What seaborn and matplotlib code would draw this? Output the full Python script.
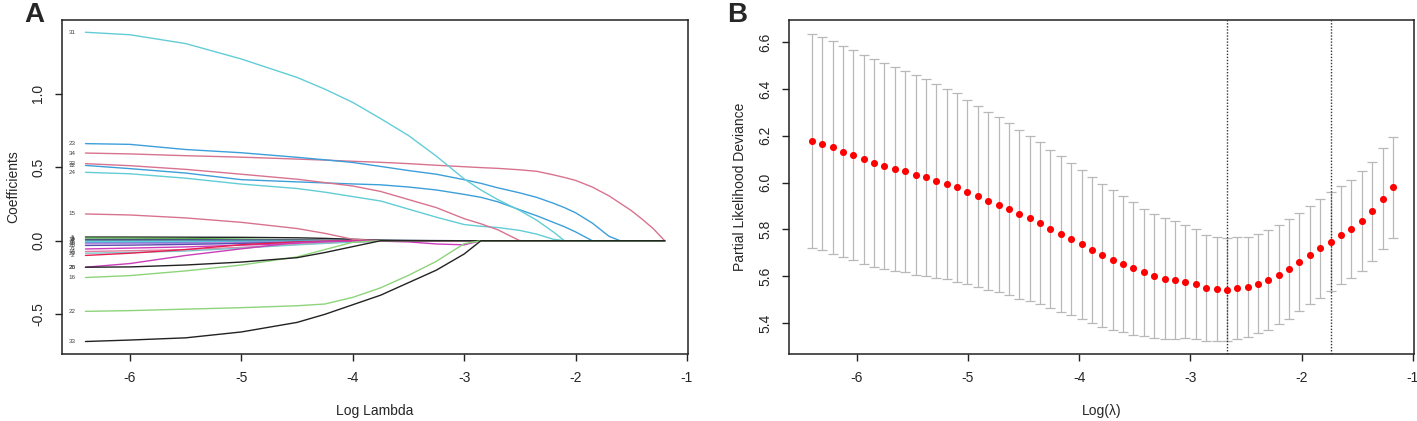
import pandas as pd
import matplotlib
matplotlib.use("Agg")
import matplotlib.pyplot as plt
import seaborn as sns


# ---- Panel A: lasso coefficient paths ----
path_log_lambda = [-6.4, -6.0, -5.5, -5.0, -4.5, -4.25, -4.0, -3.75, -3.5, -3.25, -3.0, -2.85,
                   -2.7, -2.5, -2.35, -2.2, -2.1, -2.0, -1.85, -1.7, -1.6, -1.5, -1.4, -1.3, -1.2]

coef_31 = [1.417, 1.40, 1.34, 1.235, 1.11, 1.03, 0.94, 0.83, 0.715, 0.575, 0.42, 0.345,
           0.28, 0.205, 0.14, 0.06, 0, 0, 0, 0, 0, 0, 0, 0, 0]
coef_23 = [0.66, 0.655, 0.62, 0.598, 0.567, 0.55, 0.532, 0.505, 0.477, 0.452, 0.415, 0.39,
           0.36, 0.325, 0.295, 0.255, 0.225, 0.19, 0.12, 0.03, 0, 0, 0, 0, 0]
coef_34 = [0.596, 0.59, 0.578, 0.568, 0.555, 0.548, 0.54, 0.533, 0.524, 0.513, 0.503, 0.497,
           0.492, 0.482, 0.472, 0.448, 0.43, 0.41, 0.365, 0.305, 0.255, 0.205, 0.145, 0.08, 0]
coef_32 = [0.524, 0.51, 0.485, 0.452, 0.418, 0.395, 0.372, 0.335, 0.28, 0.225, 0.15, 0.115,
           0.075, 0, 0, 0, 0, 0, 0, 0, 0, 0, 0, 0, 0]
coef_12 = [0.512, 0.49, 0.46, 0.415, 0.40, 0.393, 0.386, 0.38, 0.365, 0.345, 0.315, 0.295,
           0.265, 0.21, 0.17, 0.125, 0.095, 0.06, 0, 0, 0, 0, 0, 0, 0]
coef_24 = [0.465, 0.455, 0.425, 0.385, 0.355, 0.33, 0.30, 0.27, 0.215, 0.16, 0.11, 0.098,
           0.09, 0.07, 0.045, 0.01, 0, 0, 0, 0, 0, 0, 0, 0, 0]
coef_15 = [0.182, 0.175, 0.155, 0.125, 0.083, 0.05, 0.01, 0, 0, 0, 0, 0,
           0, 0, 0, 0, 0, 0, 0, 0, 0, 0, 0, 0, 0]
coef_16 = [-0.25, -0.237, -0.205, -0.165, -0.11, -0.06, -0.01, 0, 0, 0, 0, 0,
           0, 0, 0, 0, 0, 0, 0, 0, 0, 0, 0, 0, 0]
coef_26 = [-0.18, -0.178, -0.165, -0.145, -0.115, -0.08, -0.04, 0, 0, 0, 0, 0,
           0, 0, 0, 0, 0, 0, 0, 0, 0, 0, 0, 0, 0]
coef_20 = [-0.18, -0.155, -0.10, -0.055, -0.012, -0.006, -0.002, 0, 0, 0, 0, 0,
           0, 0, 0, 0, 0, 0, 0, 0, 0, 0, 0, 0, 0]
coef_22 = [-0.48, -0.475, -0.465, -0.455, -0.442, -0.43, -0.385, -0.32, -0.235, -0.14, -0.02, 0,
           0, 0, 0, 0, 0, 0, 0, 0, 0, 0, 0, 0, 0]
coef_33 = [-0.685, -0.675, -0.66, -0.62, -0.555, -0.50, -0.435, -0.37, -0.285, -0.2, -0.09, 0,
           0, 0, 0, 0, 0, 0, 0, 0, 0, 0, 0, 0, 0]
# small coefficients bunched around zero
coef_1 = [0.025, 0.025, 0.024, 0.023, 0.02, 0.016, 0.01, 0.004, 0.001, 0, 0, 0,
          0, 0, 0, 0, 0, 0, 0, 0, 0, 0, 0, 0, 0]
coef_3 = [0.018, 0.017, 0.015, 0.011, 0.005, 0.002, 0, 0, 0, 0, 0, 0,
          0, 0, 0, 0, 0, 0, 0, 0, 0, 0, 0, 0, 0]
coef_8 = [0.01, 0.01, 0.009, 0.007, 0.004, 0.002, 0, 0, 0, 0, 0, 0,
          0, 0, 0, 0, 0, 0, 0, 0, 0, 0, 0, 0, 0]
coef_19 = [0.005, 0.005, 0.005, 0.004, 0.004, 0.003, 0.003, 0.002, 0.002, 0.001, 0, 0,
           0, 0, 0, 0, 0, 0, 0, 0, 0, 0, 0, 0, 0]
coef_5 = [-0.005, -0.005, -0.004, -0.003, -0.002, -0.001, 0, 0, 0, 0, 0, 0,
          0, 0, 0, 0, 0, 0, 0, 0, 0, 0, 0, 0, 0]
coef_4 = [-0.015, -0.015, -0.013, -0.011, -0.008, -0.006, -0.004, -0.002, -0.001, 0, 0, 0,
          0, 0, 0, 0, 0, 0, 0, 0, 0, 0, 0, 0, 0]
coef_10 = [-0.02, -0.019, -0.016, -0.012, -0.007, -0.004, -0.001, 0, 0, 0, 0, 0,
           0, 0, 0, 0, 0, 0, 0, 0, 0, 0, 0, 0, 0]
coef_28 = [-0.032, -0.03, -0.025, -0.018, -0.01, -0.006, -0.003, 0, 0, 0, 0, 0,
           0, 0, 0, 0, 0, 0, 0, 0, 0, 0, 0, 0, 0]
coef_6 = [-0.056, -0.05, -0.042, -0.03, -0.018, -0.012, -0.008, -0.003, -0.008, -0.022, -0.028, 0,
          0, 0, 0, 0, 0, 0, 0, 0, 0, 0, 0, 0, 0]
coef_14 = [-0.073, -0.068, -0.06, -0.045, -0.025, -0.015, -0.007, 0, 0, 0, 0, 0,
           0, 0, 0, 0, 0, 0, 0, 0, 0, 0, 0, 0, 0]
coef_29 = [-0.085, -0.08, -0.07, -0.05, -0.028, -0.018, -0.009, -0.003, 0, 0, 0, 0,
           0, 0, 0, 0, 0, 0, 0, 0, 0, 0, 0, 0, 0]
coef_2 = [-0.10, -0.085, -0.06, -0.027, -0.008, -0.003, 0, 0, 0, 0, 0, 0,
          0, 0, 0, 0, 0, 0, 0, 0, 0, 0, 0, 0, 0]

# ---- Panel B: cross-validation curve ----
cv_log_lambda = [-6.405, -6.312, -6.218, -6.125, -6.032, -5.938, -5.845, -5.752, -5.659, -5.565,
                 -5.472, -5.379, -5.285, -5.192, -5.099, -5.005, -4.912, -4.819, -4.726, -4.632,
                 -4.539, -4.446, -4.352, -4.259, -4.166, -4.072, -3.979, -3.886, -3.792, -3.699,
                 -3.606, -3.513, -3.419, -3.326, -3.233, -3.139, -3.046, -2.953, -2.859, -2.766,
                 -2.673, -2.579, -2.486, -2.393, -2.300, -2.206, -2.113, -2.020, -1.926, -1.833,
                 -1.740, -1.646, -1.553, -1.460, -1.367, -1.273, -1.180]
cv_mean = [6.179, 6.165, 6.150, 6.132, 6.118, 6.099, 6.084, 6.069, 6.058, 6.048,
           6.033, 6.023, 6.007, 5.993, 5.979, 5.960, 5.942, 5.923, 5.906, 5.886,
           5.865, 5.847, 5.826, 5.803, 5.781, 5.760, 5.737, 5.712, 5.690, 5.670,
           5.651, 5.634, 5.617, 5.601, 5.590, 5.583, 5.576, 5.566, 5.550, 5.545,
           5.543, 5.548, 5.554, 5.569, 5.583, 5.606, 5.631, 5.660, 5.691, 5.719,
           5.748, 5.776, 5.803, 5.835, 5.877, 5.931, 5.980]
cv_sd = [0.457, 0.455, 0.454, 0.451, 0.448, 0.447, 0.443, 0.440, 0.435, 0.430,
         0.426, 0.420, 0.413, 0.405, 0.402, 0.391, 0.386, 0.380, 0.374, 0.367,
         0.360, 0.353, 0.346, 0.338, 0.332, 0.324, 0.318, 0.312, 0.306, 0.300,
         0.291, 0.283, 0.272, 0.264, 0.260, 0.251, 0.241, 0.235, 0.226, 0.221,
         0.220, 0.218, 0.214, 0.213, 0.213, 0.211, 0.212, 0.209, 0.209, 0.210,
         0.212, 0.211, 0.210, 0.214, 0.212, 0.215, 0.216]
log_lambda_min = -2.673
log_lambda_1se = -1.740


# colours of the paths (drawing order: small ones first, 33 last)
pink, cyan, blue, green, black = "#D8738F", "#62CDD6", "#3C9FD9", "#8ED47A", "#222222"
path_colors = {
    "1": black, "3": "#3FB53A", "8": "#A8A8A8", "19": "#1F2F6B", "5": "#5FD3DA",
    "4": "#3E7FD0", "10": "#B38BE0", "28": "#5B4DB0", "6": "#CD3BBC", "14": "#E57FA0",
    "29": "#7CC6C9", "2": "#E8204F",
    "15": pink, "24": cyan, "12": blue, "32": pink, "34": pink, "23": blue, "31": cyan,
    "20": "#C83FB8", "16": green, "26": black, "22": green, "33": black,
}
path_values = {
    "1": coef_1, "3": coef_3, "8": coef_8, "19": coef_19, "5": coef_5, "4": coef_4,
    "10": coef_10, "28": coef_28, "6": coef_6, "14": coef_14, "29": coef_29, "2": coef_2,
    "15": coef_15, "24": coef_24, "12": coef_12, "32": coef_32, "34": coef_34,
    "23": coef_23, "31": coef_31, "20": coef_20, "16": coef_16, "26": coef_26,
    "22": coef_22, "33": coef_33,
}

rows = []
for name, vals in path_values.items():
    for x, y in zip(path_log_lambda, vals):
        rows.append({"var": name, "log_lambda": x, "coef": y})
paths = pd.DataFrame(rows)

cv = pd.DataFrame({"log_lambda": cv_log_lambda, "cvm": cv_mean, "cvsd": cv_sd})

sns.set_theme(style="white")
plt.rcParams["font.family"] = ["Liberation Sans", "DejaVu Sans"]
plt.rcParams["axes.unicode_minus"] = False

fig = plt.figure(figsize=(14.17, 4.21), dpi=100)
axA = fig.add_axes([0.0438, 0.1591, 0.4418, 0.7933])
axB = fig.add_axes([0.5568, 0.1591, 0.4411, 0.7933])

# Panel A
sns.lineplot(data=paths, x="log_lambda", y="coef", hue="var",
             hue_order=list(path_values.keys()), palette=path_colors,
             estimator=None, sort=False, legend=False, linewidth=1.0, ax=axA)
for name, vals in path_values.items():
    axA.text(-6.52, vals[0], name, fontsize=4.5, color="#444444",
             ha="center", va="center")
axA.set_xlim(-6.61, -0.99)
axA.set_ylim(-0.77, 1.50)
axA.set_xticks([-6, -5, -4, -3, -2, -1])
axA.set_yticks([-0.5, 0.0, 0.5, 1.0])
axA.set_yticklabels(["-0.5", "0.0", "0.5", "1.0"])
axA.set_xlabel("Log Lambda", fontsize=10, labelpad=14)
axA.set_ylabel("Coefficients", fontsize=10, labelpad=8)

# Panel B
axB.errorbar(cv["log_lambda"], cv["cvm"], yerr=cv["cvsd"], fmt="none",
             ecolor="#B8B8B8", elinewidth=0.9, capsize=3.5, capthick=0.9)
sns.scatterplot(data=cv, x="log_lambda", y="cvm", color="#FF0000", s=26,
                linewidth=0, ax=axB, zorder=3)
axB.axvline(log_lambda_min, color="#333333", linestyle=(0, (1, 1.2)), linewidth=1)
axB.axvline(log_lambda_1se, color="#333333", linestyle=(0, (1, 1.2)), linewidth=1)
axB.set_xlim(-6.61, -0.99)
axB.set_ylim(5.268, 6.694)
axB.set_xticks([-6, -5, -4, -3, -2, -1])
axB.set_yticks([5.4, 5.6, 5.8, 6.0, 6.2, 6.4, 6.6])
axB.set_yticklabels(["5.4", "5.6", "5.8", "6.0", "6.2", "6.4", "6.6"])
axB.set_xlabel("Log(\u03bb)", fontsize=10, labelpad=14)
axB.set_ylabel("Partial Likelihood Deviance", fontsize=10, labelpad=8)

for ax in (axA, axB):
    for s in ax.spines.values():
        s.set_visible(True)
        s.set_color("#222222")
        s.set_linewidth(1.1)
    ax.tick_params(axis="both", direction="out", length=5, width=1,
                   color="#222222", labelsize=10, pad=7, left=True, bottom=True)
    for t in ax.get_yticklabels():
        t.set_rotation(90)
        t.set_va("center")

fig.text(0.017, 0.995, "A", fontsize=20, fontweight="bold", ha="left", va="top")
fig.text(0.513, 0.995, "B", fontsize=20, fontweight="bold", ha="left", va="top")

fig.savefig("out.png", dpi=100)
